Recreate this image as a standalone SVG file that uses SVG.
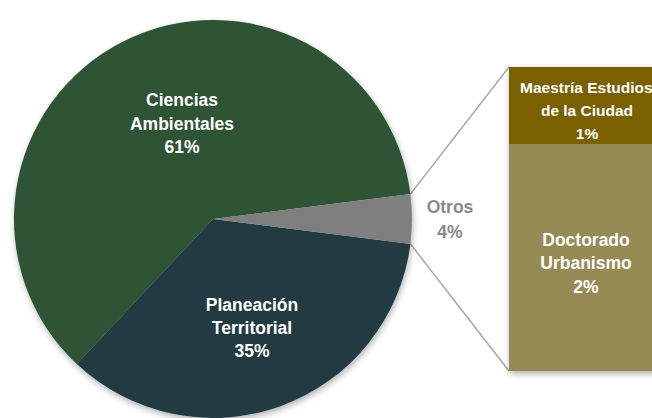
<svg xmlns="http://www.w3.org/2000/svg" width="652" height="418" viewBox="0 0 652 418">
<defs>
<filter id="sh" x="-10%" y="-10%" width="125%" height="125%">
<feDropShadow dx="1" dy="3" stdDeviation="3" flood-color="#000" flood-opacity="0.3"/>
</filter>
<style>
text{font-family:"Liberation Sans",Arial,sans-serif;font-weight:bold;text-anchor:middle;}
.w{fill:#ffffff;font-size:17.5px;}
.s{fill:#ffffff;font-size:15.5px;}
.g{fill:#8a8a8a;font-size:17.5px;}
.conn{stroke:#a6a6a6;stroke-width:1.5;fill:none;}
</style>
</defs>
<rect width="652" height="418" fill="#ffffff"/>
<g id="connectors">
<line class="conn" x1="410.4" y1="194.1" x2="509" y2="67"/>
<line class="conn" x1="410.4" y1="243.9" x2="509" y2="371"/>
</g>
<g id="pie" filter="url(#sh)">
<g id="ciencias">
<path d="M213,219 L76.8,364.1 A199,199 0 1 1 410.4,194.1 Z" fill="#2d5234"/>
</g>
<g id="planeacion">
<path d="M213,219 L410.4,243.9 A199,199 0 0 1 76.8,364.1 Z" fill="#243b42"/>
</g>
<g id="otros">
<path d="M213,219 L410.4,194.1 A199,199 0 0 1 410.4,243.9 Z" fill="#7f7f7f"/>
</g>
</g>
<g id="labels-pie">
<text class="w" x="182" y="106">Ciencias</text>
<text class="w" x="182" y="130">Ambientales</text>
<text class="w" x="182" y="153">61%</text>
<text class="w" x="252" y="311">Planeación</text>
<text class="w" x="252" y="334">Territorial</text>
<text class="w" x="252" y="357">35%</text>
<text class="g" x="450" y="213">Otros</text>
<text class="g" x="450" y="238">4%</text>
</g>
<g id="bar" filter="url(#sh)">
<g id="maestria">
<rect x="509" y="67" width="160" height="77" fill="#7a6003"/>
</g>
<g id="doctorado">
<rect x="509" y="144" width="160" height="227" fill="#968a55"/>
</g>
</g>
<g id="labels-bar">
<text class="s" x="520" y="93" style="text-anchor:start">Maestría Estudios</text>
<text class="s" x="587" y="116">de la Ciudad</text>
<text class="s" x="587" y="139">1%</text>
<text class="w" x="586" y="246">Doctorado</text>
<text class="w" x="586" y="269">Urbanismo</text>
<text class="w" x="586" y="293">2%</text>
</g>
</svg>
